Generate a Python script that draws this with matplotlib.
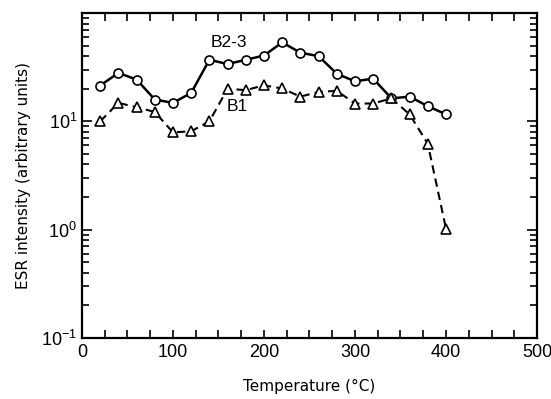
import matplotlib
matplotlib.use('Agg')
import matplotlib.pyplot as plt
from matplotlib.ticker import MultipleLocator, LogLocator, NullFormatter, FixedLocator, FixedFormatter

plt.rcParams['font.family'] = ['Liberation Sans', 'DejaVu Sans']
plt.rcParams['mathtext.default'] = 'regular'

temp = [20, 40, 60, 80, 100, 120, 140, 160, 180, 200,
        220, 240, 260, 280, 300, 320, 340, 360, 380, 400]
b23 = [21.4, 28, 24.3, 15.9, 14.8, 18.3, 37, 33.8, 37, 40.5,
       53.5, 43, 40, 27.5, 23.4, 24.8, 16.3, 16.9, 13.8, 11.6]
b1 = [10, 14.8, 13.5, 12.2, 7.9, 8.1, 10, 20, 19.4, 21.5,
      20.1, 16.9, 18.7, 19.1, 14.6, 14.6, 16.3, 11.6, 6.2, 1.02]
ytick_vals = [0.1, 1, 10, 100]
ytick_labels = ['$10^{-1}$', '$10^{0}$', '$10^{1}$', '']

def main():
    fig = plt.figure(figsize=(5.51, 3.99), dpi=100)
    ax = fig.add_axes([0.1488, 0.1529, 0.8258, 0.8145])

    ax.plot(temp, b23, '-', color='black', lw=1.8, marker='o', ms=6.5,
            mfc='white', mec='black', mew=1.2)
    ax.plot(temp, b1, '--', color='black', lw=1.5, dashes=(4, 2.5), marker='^',
            ms=7.5, mfc='white', mec='black', mew=1.2)

    # curve labels
    ax.text(161, 53, 'B2-3', fontsize=12.5, ha='center', va='center')
    ax.text(171, 13.7, 'B1', fontsize=12.5, ha='center', va='center')

    ax.set_yscale('log')
    ax.set_xlim(0, 500)
    ax.set_ylim(0.1, 100)
    ax.xaxis.set_major_locator(MultipleLocator(100))
    ax.xaxis.set_minor_locator(MultipleLocator(25))
    ax.yaxis.set_major_locator(FixedLocator(ytick_vals))
    ax.yaxis.set_major_formatter(FixedFormatter(ytick_labels))
    ax.yaxis.set_minor_locator(LogLocator(base=10, subs=range(2, 10), numticks=20))
    ax.yaxis.set_minor_formatter(NullFormatter())

    ax.tick_params(which='both', direction='in', top=True, right=True,
                   labelsize=13, width=1.2)
    ax.tick_params(which='major', length=7)
    ax.tick_params(which='minor', length=5)
    ax.tick_params(axis='x', which='both', length=6, pad=4)
    for s in ax.spines.values():
        s.set_linewidth(1.6)

    ax.set_xlabel('Temperature (°C)', fontsize=11, family='DejaVu Sans',
                  labelpad=13)
    ax.set_ylabel('ESR intensity (arbitrary units)', fontsize=11,
                  family='DejaVu Sans', labelpad=7)

    fig.savefig('out.png', dpi=100)

if __name__ == "__main__":
    main()
